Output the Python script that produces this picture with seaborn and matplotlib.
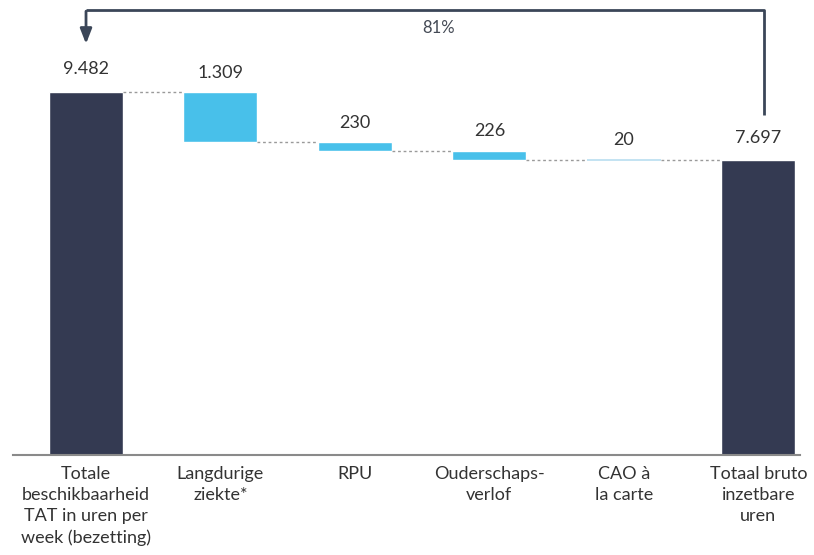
import numpy as np
import pandas as pd
import seaborn as sns
import matplotlib.pyplot as plt

categories = ["Totale\nbeschikbaarheid\nTAT in uren per\nweek (bezetting)",
              "Langdurige\nziekte*", "RPU", "Ouderschaps-\nverlof",
              "CAO à\nla carte", "Totaal bruto\ninzetbare\nuren"]
start_total = 9482
deductions = [1309, 230, 226, 20]
labels = ["9.482", "1.309", "230", "226", "20", "7.697"]

end_total = start_total - sum(deductions)

# waterfall: top / bottom of each bar
tops = [start_total]
bottoms = [0]
level = start_total
for d in deductions:
    tops.append(level)
    level -= d
    bottoms.append(level)
tops.append(end_total)
bottoms.append(0)

df = pd.DataFrame({"cat": categories, "top": tops, "bottom": bottoms})

dark = "#343a52"
blue = "#48c0ea"
pale = "#cfe9f5"
palette = [dark, blue, blue, blue, pale, dark]

sns.set_style("white")
plt.rcParams["font.family"] = ["Lato", "DejaVu Sans"]

fig = plt.figure(figsize=(8.14, 5.55), dpi=100)
ax = fig.add_axes([13 / 814, 100 / 555, 787 / 814, 455 / 555])

sns.barplot(data=df, x="cat", y="top", hue="cat", palette=palette,
            width=0.55, legend=False, ax=ax, saturation=1, zorder=1)
sns.barplot(data=df, x="cat", y="bottom", color="white",
            width=0.55, ax=ax, saturation=1, zorder=1.5)

# pale bar edge so the tiny deduction stays visible
ax.bar(4, tops[4] - bottoms[4], bottom=bottoms[4], width=0.55,
       color=pale, edgecolor="#b9def0", linewidth=1.2, zorder=2)

# dotted connectors between bars
w = 0.55 / 2
for i in range(len(categories) - 1):
    lvl = tops[0] if i == 0 else bottoms[i]
    ax.plot([i + w, i + 1 - w], [lvl, lvl], color="#9a9a9a", lw=1,
            ls=(0, (2, 2)), zorder=3)

for i, lab in enumerate(labels):
    off = 380 if i in (0, 5) else 300
    ax.text(i, tops[i] + off, lab, ha="center", va="bottom",
            fontsize=13, color="#333333")

# bracket arrow with ratio
ytop = start_total * 1.226
ax.plot([5.04, 5.04, 0.0], [end_total * 1.155, ytop, ytop],
        color="#3b4658", lw=2, solid_capstyle="butt", zorder=4)
ax.annotate("", xy=(0.0, start_total * 1.125), xytext=(0.0, ytop + 40),
            arrowprops=dict(arrowstyle="-|>,head_width=0.35,head_length=0.9",
                            color="#3b4658", lw=2), zorder=4)
ax.text(2.62, ytop - 480, f"{round(end_total / start_total * 100)}%",
        ha="center", va="center", fontsize=12, color="#444a55")

ax.set_xlim(-0.543, 5.31)
ax.set_ylim(0, 11886)
ax.set_xlabel("")
ax.set_ylabel("")
ax.set_yticks([])
ax.tick_params(axis="x", length=0, pad=8)
for t in ax.get_xticklabels():
    t.set_fontsize(13)
    t.set_color("#333333")
    t.set_linespacing(1.38)
for s in ["left", "right", "top"]:
    ax.spines[s].set_visible(False)
ax.spines["bottom"].set_color("#8a8a8a")
ax.spines["bottom"].set_linewidth(1.5)

fig.savefig("out.png", dpi=100)
